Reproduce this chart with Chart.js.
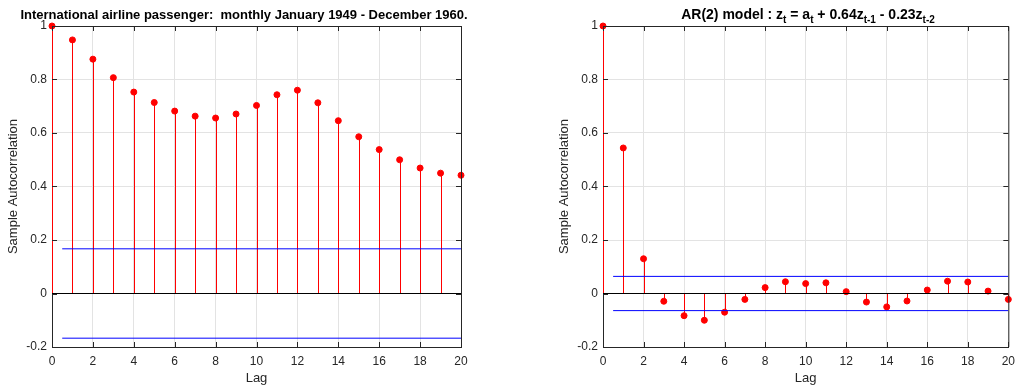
<!DOCTYPE html>
<html>
<head>
<meta charset="utf-8">
<script src="https://cdn.jsdelivr.net/npm/chart.js@4/dist/chart.umd.min.js"></script>
<style>
  html, body { margin: 0; padding: 0; background: #fff; }
  .wrap { position: absolute; top: 0; width: 511px; height: 390px; }
</style>
</head>
<body>
<div class="wrap" style="left:0"><canvas id="left" width="511" height="390"></canvas></div>
<div class="wrap" style="left:511px"><canvas id="right" width="511" height="390"></canvas></div>
<script>
// lags and tick labels
const lags = [0, 1, 2, 3, 4, 5, 6, 7, 8, 9, 10, 11, 12, 13, 14, 15, 16, 17, 18, 19, 20];
const xTicks = [0, 2, 4, 6, 8, 10, 12, 14, 16, 18, 20];
const yTicks = [-0.2, 0, 0.2, 0.4, 0.6, 0.8, 1];
const yTickLabels = ['-0.2', '0', '0.2', '0.4', '0.6', '0.8', '1'];

// sample autocorrelation, airline passengers
const airlineAcf = [1, 0.948, 0.876, 0.807, 0.753, 0.714, 0.682, 0.663, 0.656, 0.671, 0.703,
  0.743, 0.760, 0.713, 0.646, 0.586, 0.538, 0.500, 0.469, 0.450, 0.442];
const airlineBounds = [0.167, -0.167];

// sample autocorrelation, simulated AR(2)
const ar2Acf = [1, 0.544, 0.130, -0.029, -0.083, -0.100, -0.070, -0.022, 0.022, 0.044, 0.037,
  0.040, 0.007, -0.032, -0.050, -0.028, 0.013, 0.046, 0.043, 0.009, -0.022];
const ar2Bounds = [0.064, -0.064];

const boundStart = 0.5;
const FONT = '"Liberation Sans", Arial, Helvetica, sans-serif';
const TXT = '#262626';

// stems + box + inward ticks + title
const stemPlugin = {
  id: 'stems',
  beforeDatasetsDraw(chart, args, opts) {
    const { ctx } = chart;
    const x = chart.scales.x, y = chart.scales.y;
    ctx.save();
    ctx.strokeStyle = '#ff0000';
    ctx.lineWidth = 1;
    opts.values.forEach((v, i) => {
      const px = Math.round(x.getPixelForValue(lags[i])) + 0.5;
      ctx.beginPath();
      ctx.moveTo(px, y.getPixelForValue(0));
      ctx.lineTo(px, y.getPixelForValue(v));
      ctx.stroke();
    });
    ctx.restore();
  },
  afterDraw(chart, args, opts) {
    const { ctx, chartArea: a } = chart;
    const x = chart.scales.x, y = chart.scales.y;
    ctx.save();
    ctx.strokeStyle = TXT;
    ctx.lineWidth = 1;
    ctx.beginPath();
    ctx.moveTo(a.left, a.top + 0.5);
    ctx.lineTo(a.right + 0.5, a.top + 0.5);
    ctx.lineTo(a.right + 0.5, a.bottom);
    ctx.stroke();
    // inward tick marks
    const tl = 5;
    ctx.beginPath();
    xTicks.forEach(v => {
      const px = Math.round(x.getPixelForValue(v)) + 0.5;
      ctx.moveTo(px, a.bottom); ctx.lineTo(px, a.bottom - tl);
      ctx.moveTo(px, a.top); ctx.lineTo(px, a.top + tl);
    });
    yTicks.forEach(v => {
      const py = Math.round(y.getPixelForValue(v)) + 0.5;
      ctx.moveTo(a.left, py); ctx.lineTo(a.left + tl, py);
      ctx.moveTo(a.right, py); ctx.lineTo(a.right - tl, py);
    });
    ctx.stroke();

    // title with optional subscripts
    const parts = opts.title;
    const big = 'bold ' + opts.titleSize + 'px ' + FONT, small = 'bold 10px ' + FONT;
    let total = 0;
    parts.forEach(p => { ctx.font = p[1] ? small : big; total += ctx.measureText(p[0]).width; });
    let cx = opts.titleX - total / 2;
    ctx.fillStyle = '#000';
    ctx.textBaseline = 'alphabetic';
    parts.forEach(p => {
      ctx.font = p[1] ? small : big;
      ctx.fillText(p[0], cx, p[1] ? 23 : 19);
      cx += ctx.measureText(p[0]).width;
    });
    ctx.restore();
  }
};

function makeChart(id, values, bounds, title, titleX, titleSize, padLeft, padRight) {
  const pts = values.map((v, i) => ({ x: lags[i], y: v }));
  return new Chart(document.getElementById(id), {
    type: 'scatter',
    data: {
      datasets: [
        {
          data: [{ x: 0, y: 0 }, { x: 20, y: 0 }],
          type: 'line', borderColor: '#000', borderWidth: 1, pointRadius: 0
        },
        {
          data: [{ x: boundStart, y: bounds[0] }, { x: 20, y: bounds[0] }],
          type: 'line', borderColor: '#0000ff', borderWidth: 1, pointRadius: 0
        },
        {
          data: [{ x: boundStart, y: bounds[1] }, { x: 20, y: bounds[1] }],
          type: 'line', borderColor: '#0000ff', borderWidth: 1, pointRadius: 0
        },
        {
          data: pts, backgroundColor: '#ff0000', borderColor: '#ff0000',
          pointRadius: 3, pointHoverRadius: 3, clip: false
        }
      ]
    },
    options: {
      responsive: false,
      animation: false,
      events: [],
      layout: { padding: { top: 26, left: padLeft, right: padRight, bottom: 0 } },
      plugins: {
        legend: { display: false },
        tooltip: { enabled: false },
        stems: { values: values, title: title, titleX: titleX, titleSize: titleSize }
      },
      scales: {
        x: {
          type: 'linear', min: 0, max: 20,
          afterBuildTicks: s => { s.ticks = xTicks.map(v => ({ value: v })); },
          afterFit: s => { s.height = 43; },
          ticks: { color: TXT, font: { size: 12, family: FONT }, padding: 7, maxRotation: 0, autoSkip: false },
          grid: { color: '#e3e3e3', drawTicks: false },
          border: { color: TXT },
          title: { display: true, text: 'Lag', color: TXT, font: { size: 13, family: FONT }, padding: { top: 2, bottom: 4 } }
        },
        y: {
          type: 'linear', min: -0.2, max: 1,
          afterBuildTicks: s => { s.ticks = yTicks.map(v => ({ value: v })); },
          afterFit: s => { s.width = 52; },
          ticks: {
            color: TXT, font: { size: 12, family: FONT }, padding: 5,
            callback: v => yTickLabels[yTicks.findIndex(t => Math.abs(t - v) < 1e-9)]
          },
          grid: { color: '#e3e3e3', drawTicks: false },
          border: { color: TXT },
          title: { display: true, text: 'Sample Autocorrelation', color: TXT, font: { size: 13, family: FONT }, padding: { top: 6, bottom: 2 } }
        }
      }
    },
    plugins: [stemPlugin]
  });
}

makeChart('left', airlineAcf, airlineBounds,
  [['International airline passenger:  monthly January 1949 - December 1960.', 0]], 244, 13, 0, 50);

makeChart('right', ar2Acf, ar2Bounds,
  [['AR(2) model : z', 0], ['t', 1], [' = a', 0], ['t', 1], [' + 0.64z', 0], ['t-1', 1], [' - 0.23z', 0], ['t-2', 1]],
  297, 14, 40, 10);
</script>
</body>
</html>
